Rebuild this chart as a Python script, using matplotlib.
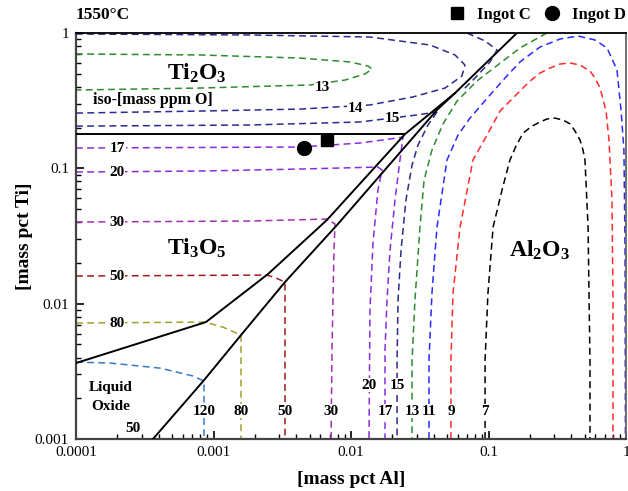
import matplotlib
matplotlib.use('Agg')
import matplotlib.pyplot as plt
from matplotlib.ticker import FixedLocator, FixedFormatter, LogLocator, NullFormatter

plt.rcParams['font.family'] = ['Liberation Serif', 'DejaVu Serif']
plt.rcParams['mathtext.fontset'] = 'custom'
plt.rcParams['mathtext.rm'] = 'Liberation Serif'
plt.rcParams['mathtext.bf'] = 'Liberation Serif:bold'

# phase boundaries (mass pct Al, mass pct Ti)
bound_a_al = [1.0e-4, 8.81e-4, 2.49e-3, 6.68e-3, 0.0247, 0.0571, 0.161]
bound_a_ti = [3.64e-3, 7.31e-3, 0.01655, 0.0415, 0.179, 0.360, 1.0]
bound_b_al = [3.63e-4, 8.53e-4, 1.585e-3, 3.31e-3, 7.91e-3, 0.0422, 0.0571]
bound_b_ti = [1.0e-3, 2.72e-3, 5.86e-3, 0.01444, 0.0381, 0.270, 0.360]
bound_c_al = [1.0e-4, 0.0247]
bound_c_ti = [0.179, 0.179]

# iso-oxygen lines (mass ppm O)
iso_13a_al = [1e-4, 7.98e-4, 4.26e-3, 9.83e-3, 0.0133, 0.01422, 0.01264, 9.04e-3, 5.03e-3, 7.98e-4, 1e-4]
iso_13a_ti = [0.700, 0.688, 0.653, 0.611, 0.570, 0.542, 0.498, 0.449, 0.413, 0.392, 0.379]
iso_13b_al = [0.266, 0.1694, 0.1274, 0.0824, 0.059, 0.0467, 0.0388, 0.034, 0.03175, 0.02918, 0.0278, 0.0278]
iso_13b_ti = [1.0, 0.775, 0.621, 0.442, 0.314, 0.213, 0.1366, 0.0819, 0.0368, 0.01063, 0.00383, 0.001]
iso_14a_al = [1e-4, 1.84e-3, 0.0137, 0.0376, 0.0571, 0.0674, 0.0641, 0.0483, 0.02825, 0.01374, 4.26e-3, 7.98e-4, 1e-4]
iso_14a_ti = [0.983, 0.967, 0.934, 0.815, 0.688, 0.580, 0.481, 0.392, 0.337, 0.294, 0.274, 0.265, 0.256]
iso_14b_al = [0.0698, 0.0944, 0.1153, 0.1025, 0.0798, 0.0641]
iso_14b_ti = [1.0, 0.873, 0.749, 0.611, 0.465, 0.3726]
iso_15a_al = [1e-4, 1.84e-3, 0.0116, 0.0302, 0.0422]
iso_15a_ti = [0.205, 0.209, 0.220, 0.248, 0.261]
iso_15b_al = [0.0422, 0.0363, 0.0307, 0.0278, 0.0251, 0.02312, 0.02198, 0.02163, 0.02163]
iso_15b_ti = [0.261, 0.209, 0.1487, 0.1058, 0.0583, 0.0249, 0.01063, 0.00383, 0.001]
iso_17_al = [1e-4, 4.26e-3, 0.0116, 0.01923, 0.02388, 0.0227, 0.02089, 0.01923, 0.01828, 0.01767, 0.01767]
iso_17_ti = [0.1413, 0.1437, 0.1538, 0.1647, 0.170, 0.1152, 0.0583, 0.0249, 0.01063, 0.00454, 0.001]
iso_20_al = [1e-4, 7.98e-4, 4.26e-3, 0.0157, 0.0168, 0.0157, 0.01445, 0.01374, 0.01352]
iso_20_ti = [0.0939, 0.0955, 0.0988, 0.1022, 0.0971, 0.0691, 0.0280, 0.00897, 0.001]
iso_30_al = [1e-4, 1.84e-3, 6.68e-3, 7.65e-3, 7.52e-3, 7.28e-3, 7.16e-3]
iso_30_ti = [0.0401, 0.0408, 0.0422, 0.0388, 0.0249, 0.00478, 0.001]
iso_50_al = [1e-4, 2.45e-3, 2.85e-3, 3.31e-3, 3.31e-3]
iso_50_ti = [0.016, 0.01627, 0.01546, 0.01444, 0.001]
iso_80_al = [1e-4, 8.67e-4, 1.17e-3, 1.585e-3, 1.585e-3]
iso_80_ti = [0.00719, 0.00731, 0.00671, 0.00586, 0.001]
iso_120_al = [1e-4, 1.77e-4, 4.08e-4, 7.10e-4, 8.53e-4, 8.53e-4]
iso_120_ti = [0.0037, 0.00364, 0.00334, 0.00292, 0.00268, 0.001]
iso_11_al = [0.0369, 0.0369, 0.0388, 0.0422, 0.0499, 0.06, 0.0733, 0.1025, 0.1318, 0.1694, 0.237,
             0.331, 0.448, 0.595, 0.728, 0.86, 0.92, 0.966, 0.984, 0.99]
iso_11_ti = [0.001, 0.00383, 0.01198, 0.0368, 0.1152, 0.176, 0.235, 0.348, 0.465, 0.611, 0.788,
             0.903, 0.950, 0.888, 0.775, 0.533, 0.270, 0.1366, 0.0249, 0.001]
iso_9_al = [0.0533, 0.0533, 0.0552, 0.0621, 0.0771, 0.0975, 0.1213, 0.1507, 0.2004, 0.237, 0.28,
            0.331, 0.392, 0.463, 0.547, 0.595, 0.648, 0.716, 0.752, 0.791, 0.804, 0.804]
iso_9_ti = [0.001, 0.00383, 0.01198, 0.0368, 0.1152, 0.176, 0.265, 0.331, 0.442, 0.506, 0.551,
            0.590, 0.600, 0.580, 0.524, 0.465, 0.392, 0.265, 0.162, 0.0583, 0.01063, 0.001]
iso_7_al = [0.0944, 0.0944, 0.0991, 0.108, 0.1254, 0.1432, 0.1585, 0.1782, 0.207, 0.237, 0.266,
            0.305, 0.348, 0.392, 0.4256, 0.463, 0.4867, 0.503, 0.53, 0.538, 0.547, 0.547]
iso_7_ti = [0.001, 0.00383, 0.01198, 0.0368, 0.0691, 0.1152, 0.146, 0.182, 0.205, 0.220, 0.2314,
            0.235, 0.2275, 0.213, 0.1887, 0.162, 0.1366, 0.1152, 0.0368, 0.01198, 0.00383, 0.001]

# measured ingots
ingot_c = (6.68e-3, 0.162)
ingot_d = (4.55e-3, 0.1413)

# contour labels: text, al, ti
iso_labels = [
    ('13', 6.15e-3, 0.399), ('14', 0.0107, 0.279), ('15', 0.01986, 0.235),
    ('17', 1.99e-4, 0.1413), ('20', 1.99e-4, 0.0939), ('30', 1.99e-4, 0.0401),
    ('50', 1.99e-4, 0.016), ('80', 1.99e-4, 0.00719),
    ('120', 8.53e-4, 0.00161), ('80', 1.585e-3, 0.00161), ('50', 3.31e-3, 0.00161),
    ('30', 7.16e-3, 0.00161), ('20', 0.01352, 0.0025), ('15', 0.0218, 0.0025),
    ('17', 0.01767, 0.00161), ('13', 0.0278, 0.00161), ('11', 0.0369, 0.00161),
    ('9', 0.0533, 0.00161), ('7', 0.0944, 0.00161),
]

navy = '#2b2b8f'
violet = '#8a2be2'
iso_lines = [
    (iso_13a_al, iso_13a_ti, '#2e8b2e'), (iso_13b_al, iso_13b_ti, '#2e8b2e'),
    (iso_14a_al, iso_14a_ti, navy), (iso_14b_al, iso_14b_ti, navy),
    (iso_15a_al, iso_15a_ti, navy), (iso_15b_al, iso_15b_ti, navy),
    (iso_17_al, iso_17_ti, violet), (iso_20_al, iso_20_ti, violet),
    (iso_30_al, iso_30_ti, '#a030b0'), (iso_50_al, iso_50_ti, '#a01a1a'),
    (iso_80_al, iso_80_ti, '#a0a030'), (iso_120_al, iso_120_ti, '#3a78c8'),
    (iso_11_al, iso_11_ti, '#2a2aff'), (iso_9_al, iso_9_ti, '#ff2a2a'),
    (iso_7_al, iso_7_ti, 'black'),
]

fig = plt.figure(figsize=(6.28, 4.91), dpi=100)
ax = fig.add_axes([76 / 628, 52 / 491, 550 / 628, 406 / 491])
ax.set_xscale('log')
ax.set_yscale('log')
ax.set_xlim(1e-4, 1)
ax.set_ylim(1e-3, 1)

for xs, ys, c in iso_lines:
    ax.plot(xs, ys, color=c, lw=1.1, ls=(0, (4.5, 2.8)), zorder=2)

for xs, ys in [(bound_a_al, bound_a_ti), (bound_b_al, bound_b_ti), (bound_c_al, bound_c_ti)]:
    ax.plot(xs, ys, color='black', lw=1.4, zorder=3)

bb = dict(facecolor='white', edgecolor='none', pad=0.6)
for t, x, y in iso_labels:
    ax.text(x, y, t, fontsize=11, fontweight='bold', ha='center', va='center', bbox=bb, zorder=4)

ax.plot(*ingot_c, marker='s', color='black', ms=9, ls='none', zorder=5, label='Ingot C')
ax.plot(*ingot_d, marker='o', color='black', ms=10, ls='none', zorder=5, label='Ingot D')

ax.text(7.5e-4, 0.506, r'$\mathbf{Ti_2O_3}$', fontsize=17, ha='center', va='center')
ax.text(7.5e-4, 0.0257, r'$\mathbf{Ti_3O_5}$', fontsize=17, ha='center', va='center')
ax.text(0.235, 0.0249, r'$\mathbf{Al_2O_3}$', fontsize=17, ha='center', va='center')
ax.text(1.33e-4, 0.32, 'iso-[mass ppm O]', fontsize=11.5, fontweight='bold', ha='left', va='center')
ax.text(1.78e-4, 0.00205, 'Liquid\nOxide', fontsize=11, fontweight='bold', ha='center', va='center',
        linespacing=1.55)
ax.text(2.6e-4, 0.0012, '50', fontsize=11, fontweight='bold', ha='center', va='center')
ax.text(0.0, 1.045, '1550°C', transform=ax.transAxes, fontsize=12.5, fontweight='bold',
        ha='left', va='center')

ax.legend(loc='center left', bbox_to_anchor=(0.662, 1.045), ncol=2, frameon=False,
          prop={'weight': 'bold', 'size': 12}, handletextpad=0.6, columnspacing=0.7,
          borderaxespad=0, handlelength=1.2)

ax.set_xlabel('[mass pct Al]', fontsize=14, fontweight='bold', labelpad=9)
ax.set_ylabel('[mass pct Ti]', fontsize=14, fontweight='bold', labelpad=1)

ax.xaxis.set_major_locator(FixedLocator([1e-4, 1e-3, 1e-2, 1e-1, 1]))
ax.xaxis.set_major_formatter(FixedFormatter(['0.0001', '0.001', '0.01', '0.1', '1']))
ax.yaxis.set_major_locator(FixedLocator([1e-3, 1e-2, 1e-1, 1]))
ax.yaxis.set_major_formatter(FixedFormatter(['0.001', '0.01', '0.1', '1']))
for a in (ax.xaxis, ax.yaxis):
    a.set_minor_locator(LogLocator(base=10, subs=range(2, 10)))
    a.set_minor_formatter(NullFormatter())
ax.tick_params(which='major', direction='in', length=6, width=1.2, labelsize=11, pad=5)
ax.tick_params(which='minor', direction='in', length=3.5, width=1)
ax.tick_params(top=False, right=False, which='both')

for s in ('left', 'bottom'):
    ax.spines[s].set_linewidth(1.6)
    ax.spines[s].set_color('#444444')
ax.spines['top'].set_linewidth(1.3)
ax.spines['right'].set_linewidth(1.3)
ax.spines['right'].set_color('#666666')

fig.savefig('out.png', dpi=100)
